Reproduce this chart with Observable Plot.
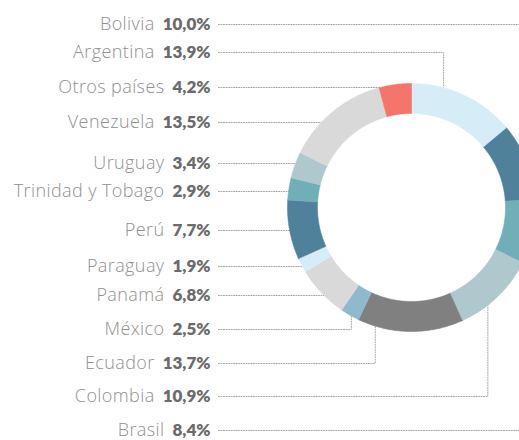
<!DOCTYPE html>
<html>
<head>
<meta charset="utf-8">
<script src="https://cdn.jsdelivr.net/npm/d3@7"></script>
<script src="https://cdn.jsdelivr.net/npm/@observablehq/plot@0.6"></script>
<style>
  html, body { margin: 0; padding: 0; background: #fff; overflow: hidden; }
  #chart svg { display: block; }
</style>
</head>
<body>
<div id="chart"></div>
<script>
// ---- data (clockwise order from 12 o'clock) ----
const countries = ["Argentina","Bolivia","Brasil","Colombia","Ecuador","México","Panamá","Paraguay","Perú","Trinidad y Tobago","Uruguay","Venezuela","Otros países"];
const shares = [13.9, 10.0, 8.4, 10.9, 13.7, 2.5, 6.8, 1.9, 7.7, 2.9, 3.4, 13.5, 4.2];
const colors = ["#d6edf7","#4f819b","#70aeb8","#afc8cd","#808080","#8fb9cd","#d9d9d9","#d6edf7","#4f819b","#70aeb8","#afc8cd","#d9d9d9","#f4756b"];

// ---- label layout (top-to-bottom) ----
const labelOrder = ["Bolivia","Argentina","Otros países","Venezuela","Uruguay","Trinidad y Tobago","Perú","Paraguay","Panamá","México","Ecuador","Colombia","Brasil"];
const labelY = [24, 52, 87, 122, 163, 191, 230, 266, 295, 329, 363, 396, 430];
// elbow leader angle (degrees clockwise from top); others are straight horizontal leaders
const leaderAngle = {"Bolivia": 70, "Argentina": 15, "Brasil": 100, "Colombia": 142, "Ecuador": 197, "México": 209};

// ---- geometry / style ----
const W = 519, H = 440;
const cx = 411, cy = 207, rOuter = 124, rInner = 94;
const textRight = 210, leaderStart = 218, nameGap = 8;
const nameFont = "'Open Sans', Lato, sans-serif";
const pctFont = "Lato, 'Open Sans', sans-serif";
const nameSize = 18, pctSize = 17;

const pie = d3.pie().sort(null).value(d => d)(shares);
const pt = (a, r) => ({x: cx + r * Math.sin(a), y: cy - r * Math.cos(a)});

const sliceMarks = pie.map((p, i) => {
  const pts = [];
  const n = Math.max(4, Math.ceil((p.endAngle - p.startAngle) / 0.01));
  for (let k = 0; k <= n; k++) pts.push(pt(p.startAngle + (p.endAngle - p.startAngle) * k / n, rOuter));
  for (let k = n; k >= 0; k--) pts.push(pt(p.startAngle + (p.endAngle - p.startAngle) * k / n, rInner));
  pts.push(pts[0]);
  return Plot.line(pts, {x: "x", y: "y", fill: colors[i], stroke: colors[i], strokeWidth: 0.6, curve: "linear"});
});

// leaders
const leaderPts = [];
labelOrder.forEach((name, j) => {
  const ly = labelY[j];
  const ang = leaderAngle[name];
  if (ang != null) {
    const e = pt(ang * Math.PI / 180, rOuter);
    leaderPts.push({name, x: leaderStart, y: ly}, {name, x: e.x, y: ly}, {name, x: e.x, y: e.y});
  } else {
    const dy = ly - cy;
    const ex = cx - Math.sqrt(Math.max(0, rOuter * rOuter - dy * dy));
    leaderPts.push({name, x: leaderStart, y: ly}, {name, x: ex, y: ly});
  }
});

// labels
const fmt = v => v.toFixed(1).replace(".", ",") + "%";
const ctx = document.createElement("canvas").getContext("2d");
ctx.font = `800 ${pctSize}px ${pctFont}`;
const labels = labelOrder.map((name, j) => {
  const v = shares[countries.indexOf(name)];
  const pct = fmt(v);
  return {name, pct, y: labelY[j], w: ctx.measureText(pct).width};
});

const chart = Plot.plot({
  width: W, height: H,
  marginTop: 0, marginRight: 0, marginBottom: 0, marginLeft: 0,
  x: {domain: [0, W], range: [0, W], axis: null},
  y: {domain: [0, H], range: [0, H], axis: null},
  style: {background: "white", overflow: "hidden"},
  marks: [
    Plot.line(leaderPts, {x: "x", y: "y", z: "name", stroke: "#a6a6a6", strokeWidth: 1, strokeDasharray: "1,1.5", curve: "linear"}),
    ...sliceMarks,
    Plot.text(labels, {x: () => textRight, y: "y", text: "pct", textAnchor: "end", lineAnchor: "middle",
      fontFamily: pctFont, fontSize: pctSize, fontWeight: 800, fill: "#6b6b6b"}),
    Plot.text(labels, {x: d => textRight - d.w - nameGap, y: "y", text: "name", textAnchor: "end", lineAnchor: "middle",
      fontFamily: nameFont, fontSize: nameSize, fontWeight: 300, fill: "#909090"})
  ]
});
const textGroups = chart.querySelectorAll('g[aria-label="text"]');
if (textGroups.length) textGroups[textGroups.length - 1].style.letterSpacing = "0.4px";
document.getElementById("chart").appendChild(chart);
</script>
</body>
</html>
